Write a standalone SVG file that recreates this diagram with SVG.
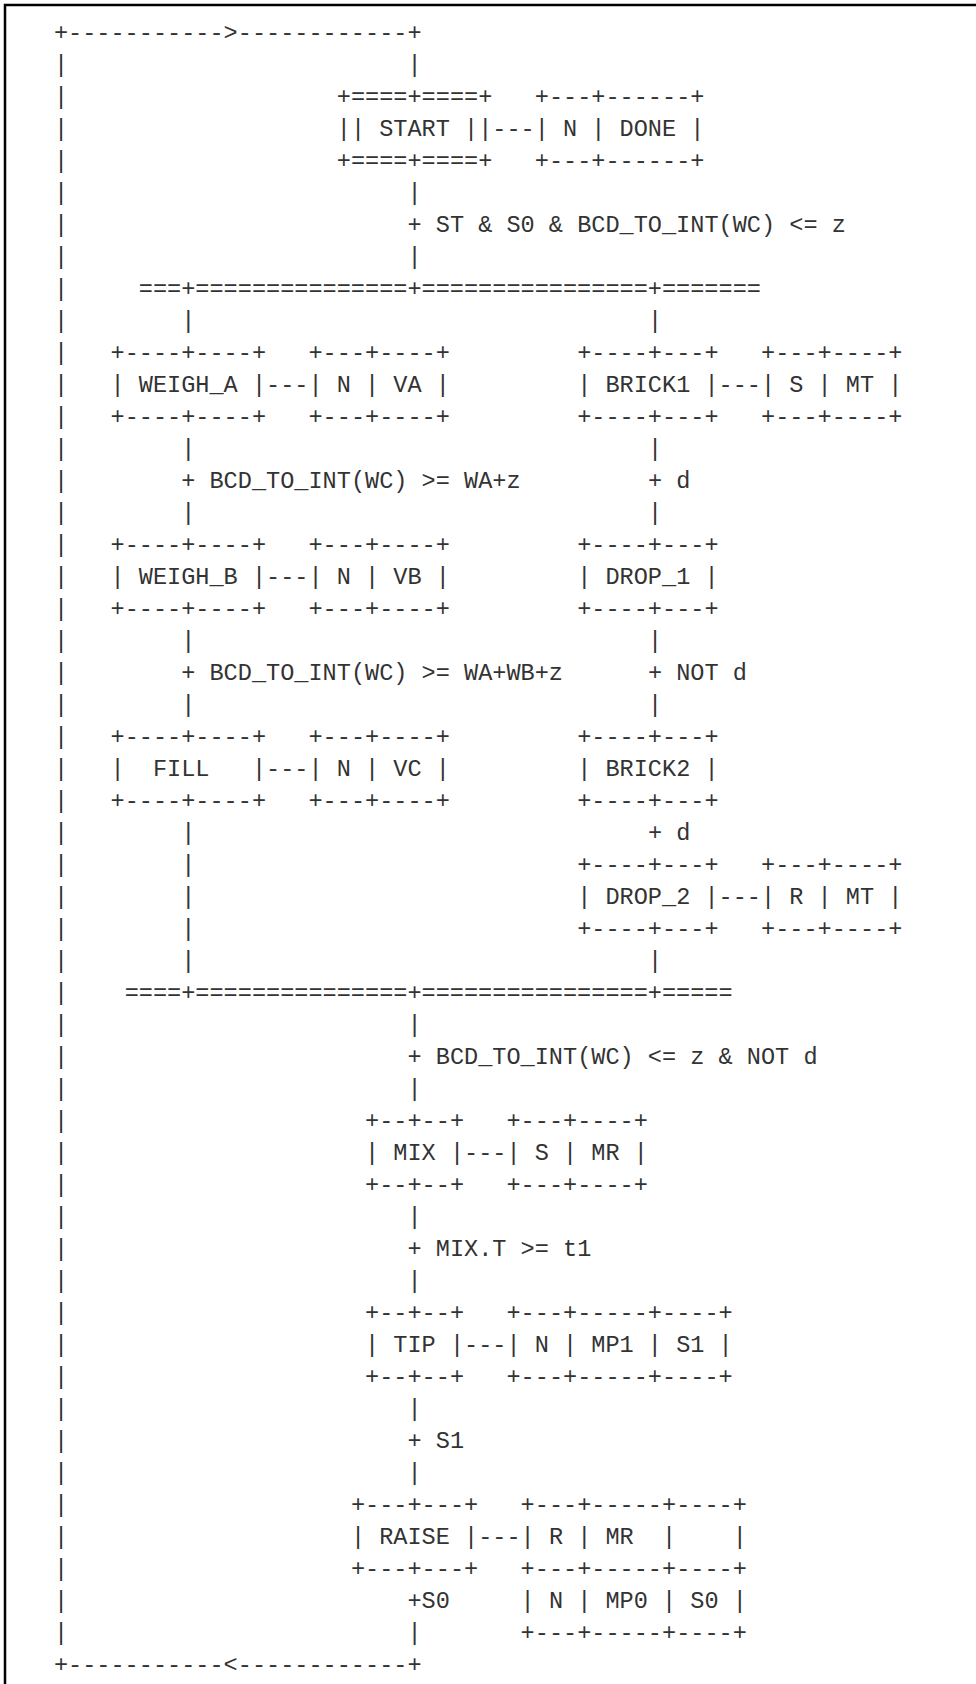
<svg xmlns="http://www.w3.org/2000/svg" width="976" height="1684" viewBox="0 0 976 1684" xml:space="preserve">
<style>
text{font-family:"Liberation Mono","DejaVu Sans Mono",monospace;font-size:23.57px;fill:#333;white-space:pre}
.frame{fill:none;stroke:#000;stroke-width:2.5}
</style>
<rect width="976" height="1684" fill="#fff"/>
<path class="frame" d="M5,1684 V5 H976"/>
<g id="connectors">
<text><tspan x="53.93" y="40">+----------->------------+</tspan><tspan x="53.93" y="1672">+-----------&lt;------------+</tspan></text>
<text><tspan x="53.93" y="72">|</tspan><tspan x="53.93" y="104">|</tspan><tspan x="53.93" y="136">|</tspan><tspan x="53.93" y="168">|</tspan><tspan x="53.93" y="200">|</tspan><tspan x="53.93" y="232">|</tspan><tspan x="53.93" y="264">|</tspan><tspan x="53.93" y="296">|</tspan><tspan x="53.93" y="328">|</tspan><tspan x="53.93" y="360">|</tspan><tspan x="53.93" y="392">|</tspan><tspan x="53.93" y="424">|</tspan><tspan x="53.93" y="456">|</tspan><tspan x="53.93" y="488">|</tspan><tspan x="53.93" y="520">|</tspan><tspan x="53.93" y="552">|</tspan><tspan x="53.93" y="584">|</tspan><tspan x="53.93" y="616">|</tspan><tspan x="53.93" y="648">|</tspan><tspan x="53.93" y="680">|</tspan><tspan x="53.93" y="712">|</tspan><tspan x="53.93" y="744">|</tspan><tspan x="53.93" y="776">|</tspan><tspan x="53.93" y="808">|</tspan><tspan x="53.93" y="840">|</tspan><tspan x="53.93" y="872">|</tspan><tspan x="53.93" y="904">|</tspan><tspan x="53.93" y="936">|</tspan><tspan x="53.93" y="968">|</tspan><tspan x="53.93" y="1000">|</tspan><tspan x="53.93" y="1032">|</tspan><tspan x="53.93" y="1064">|</tspan><tspan x="53.93" y="1096">|</tspan><tspan x="53.93" y="1128">|</tspan><tspan x="53.93" y="1160">|</tspan><tspan x="53.93" y="1192">|</tspan><tspan x="53.93" y="1224">|</tspan><tspan x="53.93" y="1256">|</tspan><tspan x="53.93" y="1288">|</tspan><tspan x="53.93" y="1320">|</tspan><tspan x="53.93" y="1352">|</tspan><tspan x="53.93" y="1384">|</tspan><tspan x="53.93" y="1416">|</tspan><tspan x="53.93" y="1448">|</tspan><tspan x="53.93" y="1480">|</tspan><tspan x="53.93" y="1512">|</tspan><tspan x="53.93" y="1544">|</tspan><tspan x="53.93" y="1576">|</tspan><tspan x="53.93" y="1608">|</tspan><tspan x="53.93" y="1640">|</tspan></text>
<text><tspan x="407.48" y="72">|</tspan><tspan x="407.48" y="200">|</tspan><tspan x="407.48" y="232">+ ST &amp; S0 &amp; BCD_TO_INT(WC) &lt;= z</tspan><tspan x="407.48" y="264">|</tspan><tspan x="407.48" y="1032">|</tspan><tspan x="407.48" y="1064">+ BCD_TO_INT(WC) &lt;= z &amp; NOT d</tspan><tspan x="407.48" y="1096">|</tspan><tspan x="407.48" y="1224">|</tspan><tspan x="407.48" y="1256">+ MIX.T &gt;= t1</tspan><tspan x="407.48" y="1288">|</tspan><tspan x="407.48" y="1416">|</tspan><tspan x="407.48" y="1448">+ S1</tspan><tspan x="407.48" y="1480">|</tspan><tspan x="407.48" y="1608">+S0</tspan><tspan x="407.48" y="1640">|</tspan></text>
<text x="138.78" y="296">===+===============+================+=======</text>
<text x="124.64" y="1000">====+===============+================+=====</text>
<text><tspan x="181.21" y="328">|</tspan><tspan x="181.21" y="456">|</tspan><tspan x="181.21" y="488">+ BCD_TO_INT(WC) &gt;= WA+z</tspan><tspan x="181.21" y="520">|</tspan><tspan x="181.21" y="648">|</tspan><tspan x="181.21" y="680">+ BCD_TO_INT(WC) &gt;= WA+WB+z</tspan><tspan x="181.21" y="712">|</tspan><tspan x="181.21" y="840">|</tspan><tspan x="181.21" y="872">|</tspan><tspan x="181.21" y="904">|</tspan><tspan x="181.21" y="936">|</tspan><tspan x="181.21" y="968">|</tspan></text>
<text><tspan x="647.89" y="328">|</tspan><tspan x="647.89" y="456">|</tspan><tspan x="647.89" y="488">+ d</tspan><tspan x="647.89" y="520">|</tspan><tspan x="647.89" y="648">|</tspan><tspan x="647.89" y="680">+ NOT d</tspan><tspan x="647.89" y="712">|</tspan><tspan x="647.89" y="840">+ d</tspan><tspan x="647.89" y="968">|</tspan></text>
<text><tspan x="492.33" y="136">---</tspan><tspan x="266.06" y="392">---</tspan><tspan x="718.60" y="392">---</tspan><tspan x="266.06" y="584">---</tspan><tspan x="266.06" y="776">---</tspan><tspan x="718.60" y="904">---</tspan><tspan x="464.05" y="1160">---</tspan><tspan x="464.05" y="1352">---</tspan><tspan x="478.19" y="1544">---</tspan></text>
</g>
<g id="step-start"><text><tspan x="336.77" y="104">+====+====+</tspan><tspan x="336.77" y="136">|| START ||</tspan><tspan x="336.77" y="168">+====+====+</tspan></text></g>
<g id="action-done"><text><tspan x="534.76" y="104">+---+------+</tspan><tspan x="534.76" y="136">| N | DONE |</tspan><tspan x="534.76" y="168">+---+------+</tspan></text></g>
<g id="step-weigh-a"><text><tspan x="110.5" y="360">+----+----+</tspan><tspan x="110.5" y="392">| WEIGH_A |</tspan><tspan x="110.5" y="424">+----+----+</tspan></text></g>
<g id="action-va"><text><tspan x="308.49" y="360">+---+----+</tspan><tspan x="308.49" y="392">| N | VA |</tspan><tspan x="308.49" y="424">+---+----+</tspan></text></g>
<g id="step-brick1"><text><tspan x="577.18" y="360">+----+---+</tspan><tspan x="577.18" y="392">| BRICK1 |</tspan><tspan x="577.18" y="424">+----+---+</tspan></text></g>
<g id="action-mt-s"><text><tspan x="761.03" y="360">+---+----+</tspan><tspan x="761.03" y="392">| S | MT |</tspan><tspan x="761.03" y="424">+---+----+</tspan></text></g>
<g id="step-weigh-b"><text><tspan x="110.5" y="552">+----+----+</tspan><tspan x="110.5" y="584">| WEIGH_B |</tspan><tspan x="110.5" y="616">+----+----+</tspan></text></g>
<g id="action-vb"><text><tspan x="308.49" y="552">+---+----+</tspan><tspan x="308.49" y="584">| N | VB |</tspan><tspan x="308.49" y="616">+---+----+</tspan></text></g>
<g id="step-drop1"><text><tspan x="577.18" y="552">+----+---+</tspan><tspan x="577.18" y="584">| DROP_1 |</tspan><tspan x="577.18" y="616">+----+---+</tspan></text></g>
<g id="step-fill"><text><tspan x="110.5" y="744">+----+----+</tspan><tspan x="110.5" y="776">|  FILL   |</tspan><tspan x="110.5" y="808">+----+----+</tspan></text></g>
<g id="action-vc"><text><tspan x="308.49" y="744">+---+----+</tspan><tspan x="308.49" y="776">| N | VC |</tspan><tspan x="308.49" y="808">+---+----+</tspan></text></g>
<g id="step-brick2"><text><tspan x="577.18" y="744">+----+---+</tspan><tspan x="577.18" y="776">| BRICK2 |</tspan><tspan x="577.18" y="808">+----+---+</tspan></text></g>
<g id="step-drop2"><text><tspan x="577.18" y="872">+----+---+</tspan><tspan x="577.18" y="904">| DROP_2 |</tspan><tspan x="577.18" y="936">+----+---+</tspan></text></g>
<g id="action-mt-r"><text><tspan x="761.03" y="872">+---+----+</tspan><tspan x="761.03" y="904">| R | MT |</tspan><tspan x="761.03" y="936">+---+----+</tspan></text></g>
<g id="step-mix"><text><tspan x="365.05" y="1128">+--+--+</tspan><tspan x="365.05" y="1160">| MIX |</tspan><tspan x="365.05" y="1192">+--+--+</tspan></text></g>
<g id="action-mr-s"><text><tspan x="506.47" y="1128">+---+----+</tspan><tspan x="506.47" y="1160">| S | MR |</tspan><tspan x="506.47" y="1192">+---+----+</tspan></text></g>
<g id="step-tip"><text><tspan x="365.05" y="1320">+--+--+</tspan><tspan x="365.05" y="1352">| TIP |</tspan><tspan x="365.05" y="1384">+--+--+</tspan></text></g>
<g id="action-mp1"><text><tspan x="506.47" y="1320">+---+-----+----+</tspan><tspan x="506.47" y="1352">| N | MP1 | S1 |</tspan><tspan x="506.47" y="1384">+---+-----+----+</tspan></text></g>
<g id="step-raise"><text><tspan x="350.91" y="1512">+---+---+</tspan><tspan x="350.91" y="1544">| RAISE |</tspan><tspan x="350.91" y="1576">+---+---+</tspan></text></g>
<g id="action-raise"><text><tspan x="520.62" y="1512">+---+-----+----+</tspan><tspan x="520.62" y="1544">| R | MR  |    |</tspan><tspan x="520.62" y="1576">+---+-----+----+</tspan><tspan x="520.62" y="1608">| N | MP0 | S0 |</tspan><tspan x="520.62" y="1640">+---+-----+----+</tspan></text></g>
</svg>
